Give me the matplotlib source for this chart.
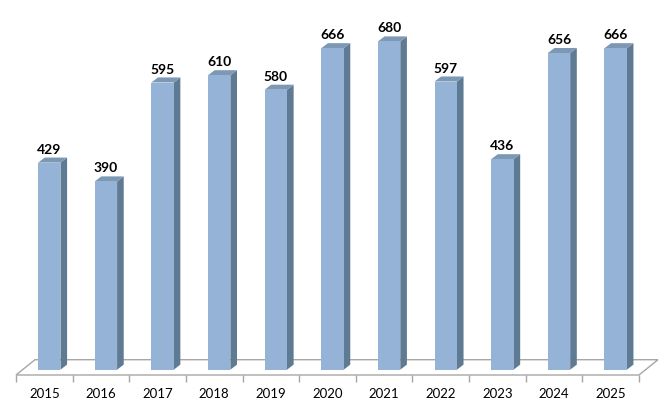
#!/usr/bin/env python

import matplotlib.pyplot as plt
from matplotlib.patches import Polygon

years = ['2015', '2016', '2017', '2018', '2019', '2020',
         '2021', '2022', '2023', '2024', '2025']
values = [429, 390, 595, 610, 580, 666, 680, 597, 436, 656, 666]

front_c = '#95B3D7'
side_c = '#5F7A93'
top_c = '#7D98B4'
floor_c = '#A6A6A6'

plt.rcParams['font.family'] = ['Lato', 'DejaVu Sans']

fig = plt.figure(figsize=(6.71, 4.10), dpi=100)
ax = fig.add_axes([16 / 671, 34 / 410, 623 / 671, 376 / 410])
ax.set_xlim(-0.5, 10.5)
ax.set_ylim(-11, 768)

# 3d-ish depth offsets (data units)
dx, dy = 0.117, 10.5
w = 0.395
shift = -0.11
fdx, fdy = 0.335, 31.7  # floor depth

# floor
floor = Polygon([(-0.5, -11), (10.5, -11), (10.5 + fdx, -11 + fdy),
                 (-0.5 + fdx, -11 + fdy)], closed=True, facecolor='white',
                edgecolor=floor_c, lw=1.0, clip_on=False, zorder=1)
ax.add_patch(floor)

lefts = [i + shift for i in range(len(values))]
ax.bar(lefts, values, width=w, align='edge', color=front_c, zorder=3)
for x0, v in zip(lefts, values):
    side = Polygon([(x0 + w, 0), (x0 + w + dx, dy), (x0 + w + dx, v + dy),
                    (x0 + w, v)], closed=True, facecolor=side_c,
                   edgecolor='none', zorder=2)
    top = Polygon([(x0, v), (x0 + w, v), (x0 + w + dx, v + dy),
                   (x0 + dx, v + dy)], closed=True, facecolor=top_c,
                  edgecolor='none', zorder=2)
    ax.add_patch(side)
    ax.add_patch(top)
    ax.annotate(str(v), (x0 + w / 2, v), xytext=(0, 10 * 0.72),
                textcoords='offset points', ha='center', va='baseline',
                fontsize=10, fontweight='bold', color='black')

for s in ax.spines.values():
    s.set_visible(False)
ax.set_yticks([])
ax.set_xticks(range(len(years)))
ax.set_xticklabels(years, fontsize=9.5)
ax.set_xticks([i - 0.5 for i in range(len(years) + 1)], minor=True)
ax.tick_params(axis='x', which='major', length=0, pad=9)
ax.tick_params(axis='x', which='minor', length=5, color=floor_c, width=1)

plt.savefig('out.png', dpi=100)
plt.close()
